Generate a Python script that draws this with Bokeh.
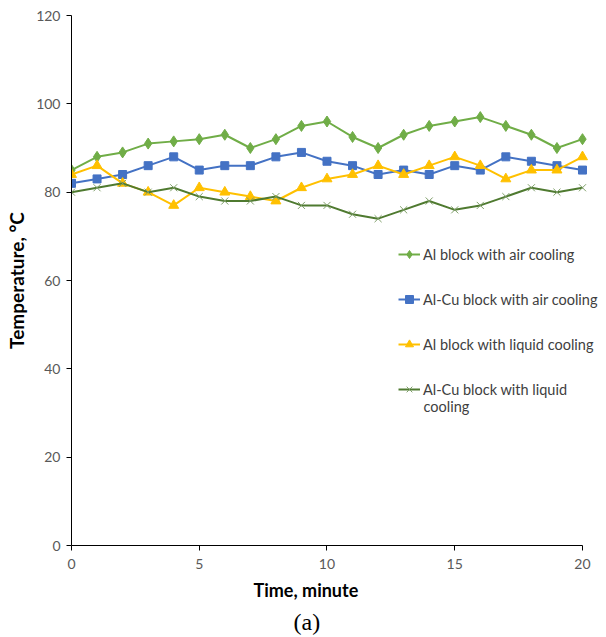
from bokeh.plotting import figure
from bokeh.models import Legend, LegendItem, Range1d, FixedTicker, Title, Label
from bokeh.embed import file_html
from bokeh.resources import INLINE

time_min = list(range(0, 21))
al_air = [85, 88, 89, 91, 91.5, 92, 93, 90, 92, 95, 96, 92.5, 90, 93, 95, 96, 97, 95, 93, 90, 92]
alcu_air = [82, 83, 84, 86, 88, 85, 86, 86, 88, 89, 87, 86, 84, 85, 84, 86, 85, 88, 87, 86, 85]
al_liquid = [84, 86, 82, 80, 77, 81, 80, 79, 78, 81, 83, 84, 86, 84, 86, 88, 86, 83, 85, 85, 88]
alcu_liquid = [80, 81, 82, 80, 81, 79, 78, 78, 79, 77, 77, 75, 74, 76, 78, 76, 77, 79, 81, 80, 81]
x_ticks = [0, 5, 10, 15, 20]
y_ticks = [0, 20, 40, 60, 80, 100, 120]
labels = ["Al block with air cooling", "Al-Cu block with air cooling",
          "Al block with liquid cooling", "Al-Cu block with liquid", "cooling"]

FONT = "Lato"

# frame runs a little past x=20 so the legend text (which overhangs the last tick
# in the reference) is not clipped; the axis line itself stops at 20 via bounds
p = figure(width=606, height=637, output_backend="svg", toolbar_location=None,
           x_range=Range1d(0, 20.705), y_range=Range1d(0, 120),
           min_border_left=71, min_border_right=6, min_border_top=15, min_border_bottom=92)
p.outline_line_color = None
p.xgrid.visible = False
p.ygrid.visible = False
p.background_fill_color = "white"
p.border_fill_color = "white"

p.xaxis.ticker = FixedTicker(ticks=x_ticks)
p.yaxis.ticker = FixedTicker(ticks=y_ticks)
p.xaxis.bounds = (0, 20)
for ax in (p.xaxis, p.yaxis):
    ax.axis_line_color = "#000000"
    ax.axis_line_width = 1
    ax.major_tick_line_color = "#000000"
    ax.major_tick_out = 5
    ax.major_tick_in = 0
    ax.minor_tick_line_color = None
    ax.major_label_text_font = FONT
    ax.major_label_text_font_size = "14px"
    ax.major_label_text_color = "#595959"
    ax.axis_label_text_font = FONT
    ax.axis_label_text_font_style = "bold"
    ax.axis_label_text_color = "#000000"

p.yaxis.axis_label = "Temperature, \u00b0C"
p.yaxis.axis_label_text_font_size = "19px"
p.xaxis.major_label_standoff = 8
p.yaxis.major_label_standoff = 6
p.yaxis.axis_label_standoff = 5

c1, c2, c3, c4 = "#70AD47", "#4472C4", "#FFC000", "#4F7A30"

l1 = p.line(time_min, al_air, line_color=c1, line_width=2)
m1 = p.scatter(time_min, al_air, marker="diamond", size=11, fill_color=c1, line_color=c1)
l2 = p.line(time_min, alcu_air, line_color=c2, line_width=2)
m2 = p.scatter(time_min, alcu_air, marker="square", size=8, fill_color=c2, line_color=c2)
l3 = p.line(time_min, al_liquid, line_color=c3, line_width=2)
m3 = p.scatter(time_min, al_liquid, marker="triangle", size=10, fill_color=c3, line_color=c3)
l4 = p.line(time_min, alcu_liquid, line_color=c4, line_width=2)
m4 = p.scatter(time_min, alcu_liquid, marker="x", size=10, line_color="#7F9F6A", line_width=1)

legend = Legend(items=[
    LegendItem(label=labels[0], renderers=[l1, m1]),
    LegendItem(label=labels[1], renderers=[l2, m2]),
    LegendItem(label=labels[2], renderers=[l3, m3]),
    LegendItem(label=labels[3], renderers=[l4, m4]),
], location=(327, 146))
legend.border_line_color = None
legend.background_fill_alpha = 0
legend.margin = 0
legend.padding = 0
legend.spacing = 25
legend.glyph_width = 22
legend.glyph_height = 20
legend.label_height = 20
legend.label_standoff = 3
legend.label_text_font = FONT
legend.label_text_font_size = "14.5px"
legend.label_text_color = "#404040"
p.add_layout(legend)

# second line of the last legend entry
cont = Label(x=352, y=139, x_units="screen", y_units="screen", text=labels[4],
             text_font=FONT, text_font_size="14.5px", text_color="#404040",
             text_align="left", text_baseline="middle")
p.add_layout(cont)

xtitle = Title(text="Time, minute", align="left", offset=182, standoff=11,
               text_font=FONT, text_font_size="18px", text_font_style="bold",
               text_color="#000000")
p.add_layout(xtitle, "below")

cap = Title(text="(a)", align="left", offset=222, standoff=0, text_font="Liberation Serif",
            text_font_size="24px", text_font_style="normal", text_color="#000000")
p.add_layout(cap, "below")

open("out.html", "w").write(file_html(p, INLINE))
